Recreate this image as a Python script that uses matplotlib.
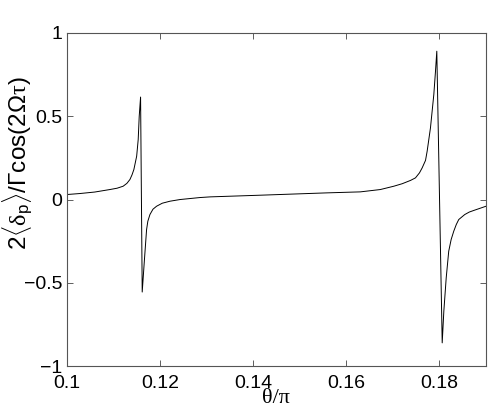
import matplotlib
matplotlib.use('Agg')
import matplotlib.pyplot as plt

plt.rcParams['font.family'] = ['Liberation Sans', 'DejaVu Sans']
plt.rcParams['mathtext.fontset'] = 'custom'
plt.rcParams['mathtext.rm'] = 'Liberation Sans'
plt.rcParams['mathtext.it'] = 'Liberation Serif'

# values
theta = [0.100, 0.1028, 0.106, 0.10925, 0.1108, 0.1121, 0.1129, 0.11355, 0.1140,
         0.1144, 0.1150, 0.11533, 0.11555, 0.11584, 0.11619, 0.11662, 0.1169,
         0.11713, 0.1174, 0.11785, 0.1185, 0.11928, 0.1205, 0.12215, 0.1243,
         0.1286, 0.1308, 0.1415, 0.1558, 0.163, 0.1673, 0.1702, 0.1720, 0.1738,
         0.17484, 0.1757, 0.17628, 0.1770, 0.17735, 0.17806, 0.17878, 0.17914,
         0.17942, 0.18058, 0.18093, 0.18144, 0.18198, 0.1825, 0.18306, 0.1836,
         0.18413, 0.18542, 0.1864, 0.1874, 0.190]
signal = [0.030, 0.036, 0.045, 0.060, 0.068, 0.080, 0.097, 0.120, 0.148,
          0.180, 0.260, 0.360, 0.500, 0.615, -0.555, -0.380, -0.270,
          -0.180, -0.130, -0.090, -0.058, -0.040, -0.022, -0.010, 0.000,
          0.012, 0.016, 0.026, 0.040, 0.046, 0.060, 0.080, 0.095, 0.115,
          0.130, 0.160, 0.190, 0.235, 0.290, 0.430, 0.630, 0.770,
          0.890, -0.860, -0.670, -0.470, -0.310, -0.240, -0.190, -0.150,
          -0.120, -0.090, -0.075, -0.065, -0.040]
xticks = [0.1, 0.12, 0.14, 0.16, 0.18]
yticks = [-1, -0.5, 0, 0.5, 1]

fig = plt.figure(figsize=(4.91, 4.11), dpi=100)
ax = fig.add_axes([0.136, 0.109, 0.854, 0.811])
ax.plot(theta, signal, color='black', lw=0.7)

ax.set_xlim(0.1, 0.19)
ax.set_ylim(-1, 1)
ax.set_xticks(xticks)
ax.set_xticklabels(['0.1', '0.12', '0.14', '0.16', '0.18'])
ax.set_yticks(yticks)
ax.set_yticklabels(['\u22121', '\u22120.5', '0', '0.5', '1'])
ax.tick_params(direction='in', length=4, width=0.6, top=True, right=True,
               labelsize=14, color='#444444')
ax.tick_params(axis='x', pad=6.5)
ax.tick_params(axis='y', pad=3)
for s in ax.spines.values():
    s.set_linewidth(0.8)
    s.set_color('#555555')

ax.set_xlabel('\u03b8/\u03c0', fontsize=16, family='Liberation Serif', labelpad=-2)
ax.set_ylabel(r'2$\langle\mathit{\delta}_{\mathrm{p}}\rangle$/$\mathit{\Gamma}$cos(2$\mathit{\Omega\tau}$)',
              fontsize=17.5)
ax.yaxis.set_label_coords(-0.077, 0.608)

fig.savefig('out.png', dpi=100)
